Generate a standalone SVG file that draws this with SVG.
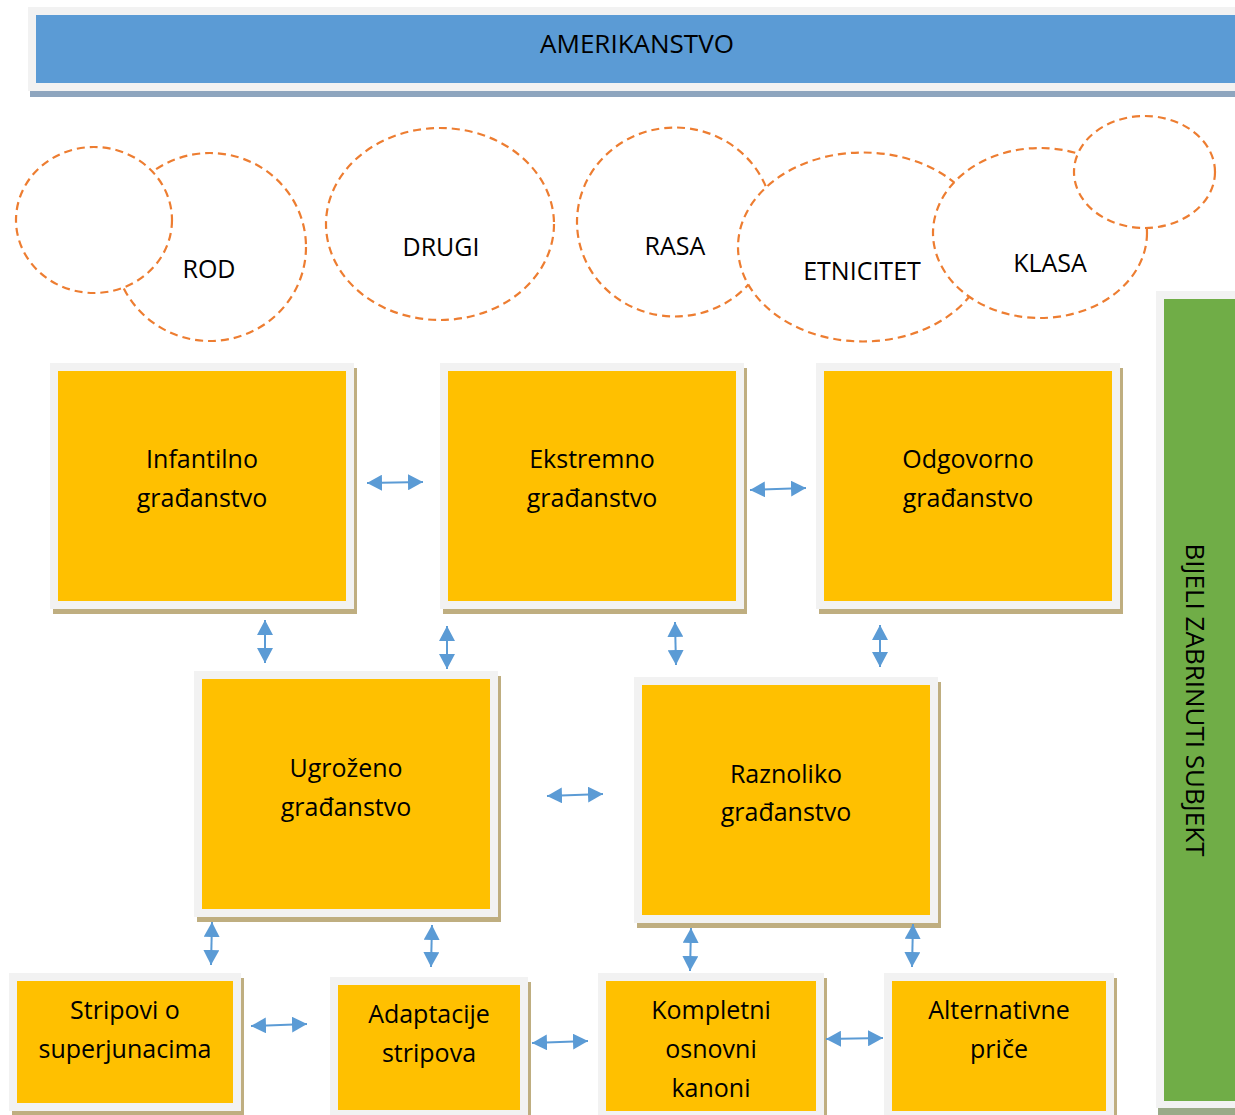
<svg xmlns="http://www.w3.org/2000/svg" width="1235" height="1115" viewBox="0 0 1235 1115">
<defs>
<style>
.frame{fill:#f2f2f2}
.shadow{fill:#bfae80}
.box{fill:#ffc000}
.lbl{font-family:"Open Sans","Noto Sans",sans-serif;font-size:25px;fill:#000;text-anchor:middle}
.big{font-size:26px}
.circ{fill:#fff;stroke:#ed7d31;stroke-width:2.2;stroke-dasharray:8 5}
.arr{stroke:#5b9bd5;stroke-width:2;fill:none;marker-start:url(#ah);marker-end:url(#ah)}
</style>
<marker id="ah" viewBox="0 0 15 16" refX="15" refY="8" markerWidth="15" markerHeight="16" markerUnits="userSpaceOnUse" orient="auto-start-reverse">
<path d="M0,0 L15,8 L0,16 Z" fill="#5b9bd5"/>
</marker>
</defs>
<rect width="1235" height="1115" fill="#fff"/>

<g id="banner">
<rect x="30" y="13" width="1210" height="84" fill="#8ea5be"/>
<rect x="28" y="7" width="1210" height="84" class="frame"/>
<rect x="36" y="15" width="1200" height="68" fill="#5b9bd5"/>
<text x="637" y="53" class="lbl big">AMERIKANSTVO</text>
</g>

<g id="side">
<rect x="1158" y="297" width="80" height="818" fill="#9aaa88"/>
<rect x="1156" y="291" width="80" height="817" class="frame"/>
<rect x="1164" y="299" width="72" height="802" fill="#70ad47"/>
<text transform="translate(1186,700) rotate(90)" class="lbl big">BIJELI ZABRINUTI SUBJEKT</text>
</g>

<g id="circle-rod">
<ellipse cx="210" cy="247" rx="96" ry="94" class="circ"/>
<text x="209" y="278" class="lbl">ROD</text>
</g>
<g id="circle-empty-left">
<ellipse cx="94" cy="220" rx="78" ry="73" class="circ"/>
</g>
<g id="circle-drugi">
<ellipse cx="440" cy="224" rx="114" ry="96" class="circ"/>
<text x="441" y="256" class="lbl">DRUGI</text>
</g>
<g id="circle-rasa">
<ellipse cx="675" cy="222" rx="98" ry="94.5" class="circ"/>
<text x="675" y="255" class="lbl">RASA</text>
</g>
<g id="circle-etnicitet">
<ellipse cx="863" cy="247" rx="125" ry="94.5" class="circ"/>
<text x="862" y="280" class="lbl">ETNICITET</text>
</g>
<g id="circle-klasa">
<ellipse cx="1040" cy="233" rx="107" ry="85" class="circ"/>
<text x="1050" y="272" class="lbl">KLASA</text>
</g>
<g id="circle-empty-right">
<ellipse cx="1144.5" cy="172" rx="70.5" ry="56" class="circ"/>
</g>

<g id="infantilno">
<rect x="53" y="368" width="304" height="246" class="shadow"/>
<rect x="50" y="363" width="304" height="246" class="frame"/>
<rect x="58" y="371" width="288" height="230" class="box"/>
<text x="202" y="468" class="lbl">Infantilno</text>
<text x="202" y="507" class="lbl">građanstvo</text>
</g>
<g id="ekstremno">
<rect x="443" y="368" width="304" height="246" class="shadow"/>
<rect x="440" y="363" width="304" height="246" class="frame"/>
<rect x="448" y="371" width="288" height="230" class="box"/>
<text x="592" y="468" class="lbl">Ekstremno</text>
<text x="592" y="507" class="lbl">građanstvo</text>
</g>
<g id="odgovorno">
<rect x="819" y="368" width="304" height="246" class="shadow"/>
<rect x="816" y="363" width="304" height="246" class="frame"/>
<rect x="824" y="371" width="288" height="230" class="box"/>
<text x="968" y="468" class="lbl">Odgovorno</text>
<text x="968" y="507" class="lbl">građanstvo</text>
</g>
<g id="ugrozeno">
<rect x="197" y="676" width="304" height="246" class="shadow"/>
<rect x="194" y="671" width="304" height="246" class="frame"/>
<rect x="202" y="679" width="288" height="230" class="box"/>
<text x="346" y="777" class="lbl">Ugroženo</text>
<text x="346" y="816" class="lbl">građanstvo</text>
</g>
<g id="raznoliko">
<rect x="637" y="682" width="304" height="246" class="shadow"/>
<rect x="634" y="677" width="304" height="246" class="frame"/>
<rect x="642" y="685" width="288" height="230" class="box"/>
<text x="786" y="783" class="lbl">Raznoliko</text>
<text x="786" y="821" class="lbl">građanstvo</text>
</g>
<g id="stripovi">
<rect x="12" y="978" width="232" height="138" class="shadow"/>
<rect x="9" y="973" width="232" height="138" class="frame"/>
<rect x="17" y="981" width="216" height="122" class="box"/>
<text x="125" y="1019" class="lbl">Stripovi o</text>
<text x="125" y="1058" class="lbl">superjunacima</text>
</g>
<g id="adaptacije">
<rect x="333" y="982" width="198" height="140" class="shadow"/>
<rect x="330" y="977" width="198" height="140" class="frame"/>
<rect x="338" y="985" width="182" height="125" class="box"/>
<text x="429" y="1023" class="lbl">Adaptacije</text>
<text x="429" y="1062" class="lbl">stripova</text>
</g>
<g id="kompletni">
<rect x="601" y="978" width="226" height="145" class="shadow"/>
<rect x="598" y="973" width="226" height="145" class="frame"/>
<rect x="606" y="981" width="210" height="130" class="box"/>
<text x="711" y="1019" class="lbl">Kompletni</text>
<text x="711" y="1058" class="lbl">osnovni</text>
<text x="711" y="1097" class="lbl">kanoni</text>
</g>
<g id="alternativne">
<rect x="887" y="978" width="230" height="145" class="shadow"/>
<rect x="884" y="973" width="230" height="145" class="frame"/>
<rect x="892" y="981" width="214" height="130" class="box"/>
<text x="999" y="1019" class="lbl">Alternativne</text>
<text x="999" y="1058" class="lbl">priče</text>
</g>

<g id="connectors">
<path class="arr" d="M367,483 L423,482"/>
<path class="arr" d="M750,490 L806,488"/>
<path class="arr" d="M265,620 L265,663"/>
<path class="arr" d="M447,626 L447,669"/>
<path class="arr" d="M675,622 L676,665"/>
<path class="arr" d="M880,625 L880,667"/>
<path class="arr" d="M547,796 L603,794"/>
<path class="arr" d="M212,922 L211,965"/>
<path class="arr" d="M432,925 L431,967"/>
<path class="arr" d="M691,928 L690,971"/>
<path class="arr" d="M913,924 L912,967"/>
<path class="arr" d="M251,1026 L307,1024"/>
<path class="arr" d="M532,1043 L588,1041"/>
<path class="arr" d="M826,1039 L883,1038"/>
</g>
</svg>
